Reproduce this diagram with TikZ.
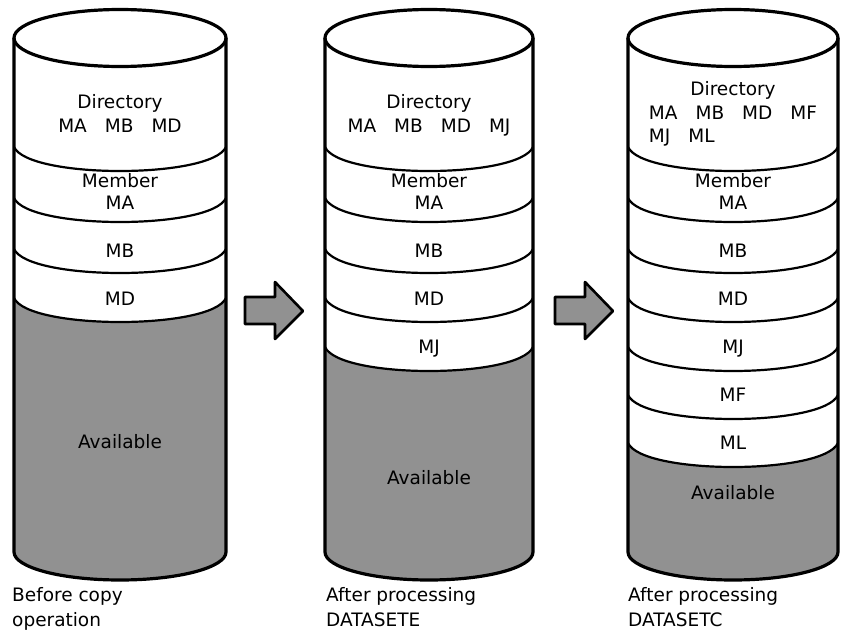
\documentclass[tikz,border=0pt]{standalone}
\usepackage{fontspec}
\setmainfont{DejaVu Sans}
\definecolor{stipple}{gray}{0.57}
\newdimen\cylrx
\newcommand\gp{\hspace{18pt}}
\newcommand\cylsetup[2]{%
  \pgfmathsetmacro\cL{#1}%
  \pgfmathsetmacro\cR{#2}%
  \pgfmathsetmacro\cC{(#1+#2)/2}%
  \pgfmathsetmacro\cK{0.5523*(#2-#1)/2}%
  \pgfmathsetmacro\cA{0.07*(#2-#1)}%
  \pgfmathsetlength\cylrx{(#2-#1)/2}%
}
\newcommand\cylband[1]{%
  \draw[bandline] (\cL,#1) .. controls (\cL+\cA,#1+32) and (\cR-\cA,#1+32) .. (\cR,#1);}
\newcommand\cylgray[1]{%
  \fill[stipple] (\cL,#1) .. controls (\cL+\cA,#1+32) and (\cR-\cA,#1+32) .. (\cR,#1)
    -- (\cR,552) .. controls (\cR,567.5) and (\cC+\cK,580) .. (\cC,580)
    .. controls (\cC-\cK,580) and (\cL,567.5) .. (\cL,552) -- cycle;}
\newcommand\cyloutline{%
  \draw[outerline] (\cC,38) ellipse [x radius=\cylrx, y radius=28.5pt];
  \draw[outerline] (\cL,38) -- (\cL,552) .. controls (\cL,567.5) and (\cC-\cK,580) .. (\cC,580)
    .. controls (\cC+\cK,580) and (\cR,567.5) .. (\cR,552) -- (\cR,38);}
\begin{document}
\begin{tikzpicture}[x=1pt,y=-1pt,
  outerline/.style={line width=3.2pt,line join=round},
  bandline/.style={line width=2.2pt},
  txt/.style={inner sep=0pt,anchor=base,font=\fontsize{18.5}{22}\selectfont},
  undertext/.style={txt,anchor=base west},
  blockarrow/.style={line width=2.6pt,fill=stipple,line join=round}]
\useasboundingbox (0,0) rectangle (844,632);

% ---------- cylinder 1
\cylsetup{14}{226}
\cylgray{298}
\cylband{147}\cylband{198}\cylband{249}\cylband{298}
\cyloutline
\node[txt] (c1dir) at (\cC,108) {Directory};
\node[txt] (c1list) at (\cC,132) {MA\gp MB\gp MD};
\node[txt] (c1mem) at (\cC,187) {Member};
\node[txt] (c1ma) at (\cC,209) {MA};
\node[txt] (c1mb) at (\cC,257) {MB};
\node[txt] (c1md) at (\cC,305) {MD};
\node[txt] (c1av) at (\cC,448) {Available};
\node[undertext] (c1cap1) at (12,601) {Before copy};
\node[undertext] (c1cap2) at (12,626) {operation};

% ---------- cylinder 2
\cylsetup{325}{533}
\cylgray{347}
\cylband{147}\cylband{198}\cylband{249}\cylband{298}\cylband{347}
\cyloutline
\node[txt] (c2dir) at (\cC,108) {Directory};
\node[txt] (c2list) at (\cC,132) {MA\gp MB\gp MD\gp MJ};
\node[txt] (c2mem) at (\cC,187) {Member};
\node[txt] (c2ma) at (\cC,209) {MA};
\node[txt] (c2mb) at (\cC,257) {MB};
\node[txt] (c2md) at (\cC,305) {MD};
\node[txt] (c2mj) at (\cC,353) {MJ};
\node[txt] (c2av) at (\cC,484) {Available};
\node[undertext] (c2cap1) at (326,601) {After processing};
\node[undertext] (c2cap2) at (326,626) {DATASETE};

% ---------- cylinder 3
\cylsetup{628}{838}
\cylgray{443}
\cylband{147}\cylband{198}\cylband{249}\cylband{298}\cylband{347}\cylband{395}\cylband{443}
\cyloutline
\node[txt] (c3dir) at (\cC,95) {Directory};
\node[txt] (c3list) at (\cC,119) {MA\gp MB\gp MD\gp MF};
\node[txt,anchor=base west] (c3list2) at ([yshift=-23pt]c3list.base west) {MJ\gp ML};
\node[txt] (c3mem) at (\cC,187) {Member};
\node[txt] (c3ma) at (\cC,209) {MA};
\node[txt] (c3mb) at (\cC,257) {MB};
\node[txt] (c3md) at (\cC,305) {MD};
\node[txt] (c3mj) at (\cC,353) {MJ};
\node[txt] (c3mf) at (\cC,401) {MF};
\node[txt] (c3ml) at (\cC,449) {ML};
\node[txt] (c3av) at (\cC,499) {Available};
\node[undertext] (c3cap1) at (628,601) {After processing};
\node[undertext] (c3cap2) at (628,626) {DATASETC};

% ---------- block arrows
\draw[blockarrow] (245,297) -- (275,297) -- (275,282) -- (303,311) -- (275,339) -- (275,324) -- (245,324) -- cycle;
\draw[blockarrow] (555,297) -- (585,297) -- (585,282) -- (613,311) -- (585,339) -- (585,324) -- (555,324) -- cycle;
\end{tikzpicture}
\end{document}
